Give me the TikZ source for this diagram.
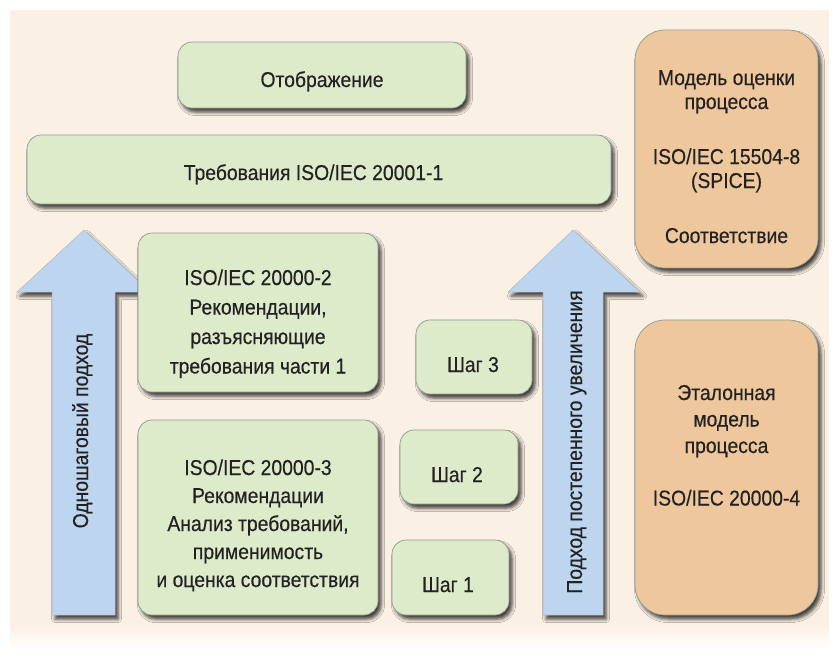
\documentclass[tikz,border=0pt]{standalone}
\usepackage{fontspec}
\setmainfont[FakeStretch=0.9, FakeBold=0.4]{Liberation Sans}
\usetikzlibrary{shadows.blur}
\definecolor{paper}{HTML}{FBF0E4}
\definecolor{boxgreen}{HTML}{DDEBCB}
\definecolor{boxorange}{HTML}{EEC79D}
\definecolor{arrowblue}{HTML}{BDD5EE}
\definecolor{boxline}{HTML}{8C9A92}
\definecolor{ink}{HTML}{222222}
\newcommand{\labelsize}[1]{\fontsize{21.5}{#1}\selectfont}
\begin{document}
\begin{tikzpicture}[x=1pt,y=-1pt,
  softshadow/.style={blur shadow={shadow xshift=3pt, shadow yshift=-4pt,
      shadow blur radius=3.5pt, shadow opacity=75}},
  panel/.style={draw=boxline, line width=0.7pt, rounded corners=14pt,
      softshadow, inner sep=0pt},
  gbox/.style={panel, fill=boxgreen},
  obox/.style={panel, fill=boxorange, rounded corners=30pt},
  bigarrow/.style={fill=arrowblue, draw=arrowblue!70!gray, line width=0.5pt, softshadow},
  txt/.style={text=ink, align=center, anchor=base, inner sep=0pt},
]
\useasboundingbox (0,0) rectangle (835,657);
% paper background
\fill[white] (0,0) rectangle (835,657);
\fill[paper] (10,10) rectangle (829,625);
\shade[top color=paper, bottom color=white] (10,624.5) rectangle (829,650);

% upward arrows
\path[bigarrow] (52,615) -- (52,292) -- (17,292) -- (84,230) -- (150,292)
  -- (115,292) -- (115,615) -- cycle;
\path[bigarrow] (543,615) -- (543,292) -- (508,292) -- (573,230) -- (640,292)
  -- (603,292) -- (603,615) -- cycle;
\node[txt, rotate=90, font=\labelsize{24}] (oneStep) at (88,431) {Одношаговый подход};
\node[txt, rotate=90, font=\labelsize{24}] (gradual) at (582,442) {Подход постепенного увеличения};

% green boxes
\node[gbox, minimum width=288pt, minimum height=66pt] (map) at (322,75) {};
\node[gbox, minimum width=584pt, minimum height=69pt] (req) at (319,169.5) {};
\node[gbox, minimum width=240pt, minimum height=159pt] (part2) at (258,312.5) {};
\node[gbox, minimum width=240pt, minimum height=195pt] (part3) at (258,517.5) {};
\node[gbox, minimum width=116pt, minimum height=74pt] (step3) at (474,357) {};
\node[gbox, minimum width=118pt, minimum height=74pt] (step2) at (459,467) {};
\node[gbox, minimum width=117pt, minimum height=75pt] (step1) at (450.5,577.5) {};

% orange boxes
\node[obox, minimum width=183pt, minimum height=238pt] (pam) at (726.5,149) {};
\node[obox, minimum width=183pt, minimum height=295pt] (prm) at (726.5,467.5) {};

% texts (multi-line texts are anchored at the baseline of their last line)
\node[txt, font=\labelsize{24}] (mapT) at (322,87) {Отображение};
\node[txt, font=\labelsize{24}] (reqT) at (313.5,180) {Требования ISO/IEC 20001-1};
\node[txt, font=\labelsize{29.5}] (part2T) at (258,373.5)
  {ISO/IEC 20000-2\\Рекомендации,\\разъясняющие\\требования части 1};
\node[txt, font=\labelsize{28}] (part3T) at (258,587)
  {ISO/IEC 20000-3\\Рекомендации\\Анализ требований,\\применимость\\и оценка соответствия};
\node[txt, font=\labelsize{24}] (step3T) at (473,372) {Шаг 3};
\node[txt, font=\labelsize{24}] (step2T) at (457,482) {Шаг 2};
\node[txt, font=\labelsize{24}] (step1T) at (448,592) {Шаг 1};
\node[txt, font=\labelsize{24}] (pamT) at (726.5,243)
  {Модель оценки\\процесса\\[31pt]ISO/IEC 15504-8\\(SPICE)\\[31pt]Соответствие};
\node[txt, font=\labelsize{26.5}] (prmT) at (726.5,505.5)
  {Эталонная\\модель\\процесса\\[26pt]ISO/IEC 20000-4};
\end{tikzpicture}
\end{document}
